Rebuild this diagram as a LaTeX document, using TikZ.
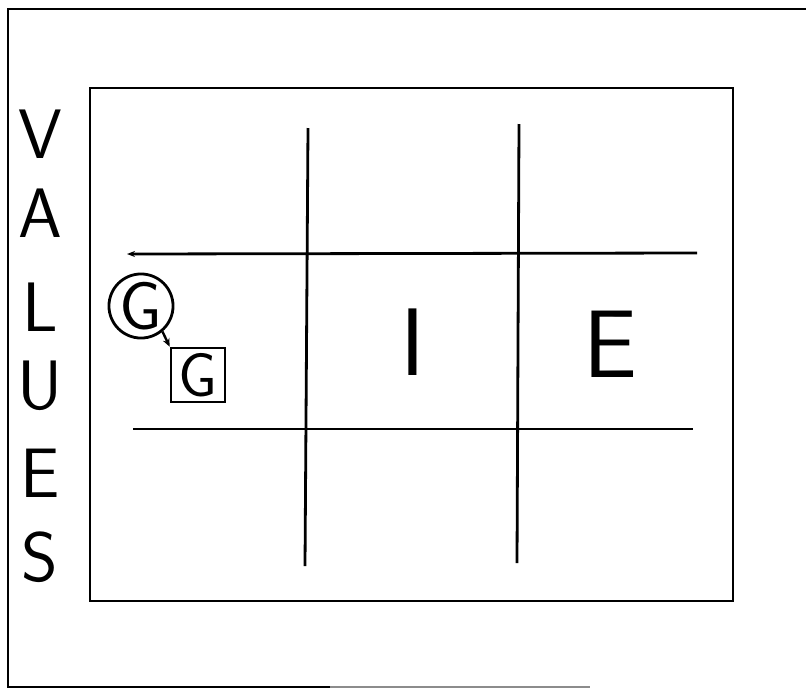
\documentclass[tikz,border=0pt]{standalone}
\usetikzlibrary{arrows.meta}
\begin{document}
\begin{tikzpicture}[x=1pt,y=-1pt,
  ink/.style={line width=2.8pt, black},
  frame/.style={line width=2.2pt, black},
  letter/.style={inner sep=0pt, font=\sffamily\fontsize{70}{70}\selectfont},
  bigletter/.style={inner sep=0pt, font=\sffamily\fontsize{96}{96}\selectfont},
  gletter/.style={inner sep=0pt, font=\sffamily\fontsize{62}{62}\selectfont}]
\useasboundingbox (0,0) rectangle (806,689);
% outer frame (open on the right)
\draw[frame] (806,9) -- (8,9) -- (8,687) -- (330,687);
\draw[line width=1.6pt, black!45] (330,687) -- (590,687);
% inner frame
\draw[ink] (90,88) rectangle (733,601);
% grid
\coordinate (h1a) at (127,254); \coordinate (h1b) at (697,253);
\coordinate (h2a) at (133,429); \coordinate (h2b) at (693,429);
\coordinate (v1a) at (308,128); \coordinate (v1b) at (305,566);
\coordinate (v2a) at (519,124); \coordinate (v2b) at (517,563);
\draw[ink, -{Stealth[length=8pt,width=6pt]}] (h1b) -- (h1a);
\draw[ink] (h2a) -- (h2b);
\draw[ink] (v1a) -- (v1b);
\draw[ink] (v2a) -- (v2b);
% VALUES
\node[letter] (lv) at (40,134) {V};
\node[letter] (la) at (40,213) {A};
\node[letter] (ll) at (40,307) {L};
\node[letter] (lu) at (40,386) {U};
\node[letter] (le) at (40,473) {E};
\node[letter] (ls) at (40,557) {S};
% I and E
\node[bigletter] (I) at (413,342) {I};
\node[bigletter] (E) at (610,344) {E};
% G in circle and G in square
\node[gletter, font=\sffamily\fontsize{68}{68}\selectfont, draw, circle, line width=2.8pt, minimum size=62pt, inner sep=0pt] (gc) at (141,306) {G};
\node[gletter, draw, line width=2.8pt, minimum size=54pt, inner sep=0pt] (gs) at (198,375) {G};
\draw[line width=2.4pt, -{Stealth[length=8pt,width=7pt]}] (gc.-50) -- (gs.north west);
\end{tikzpicture}
\end{document}
